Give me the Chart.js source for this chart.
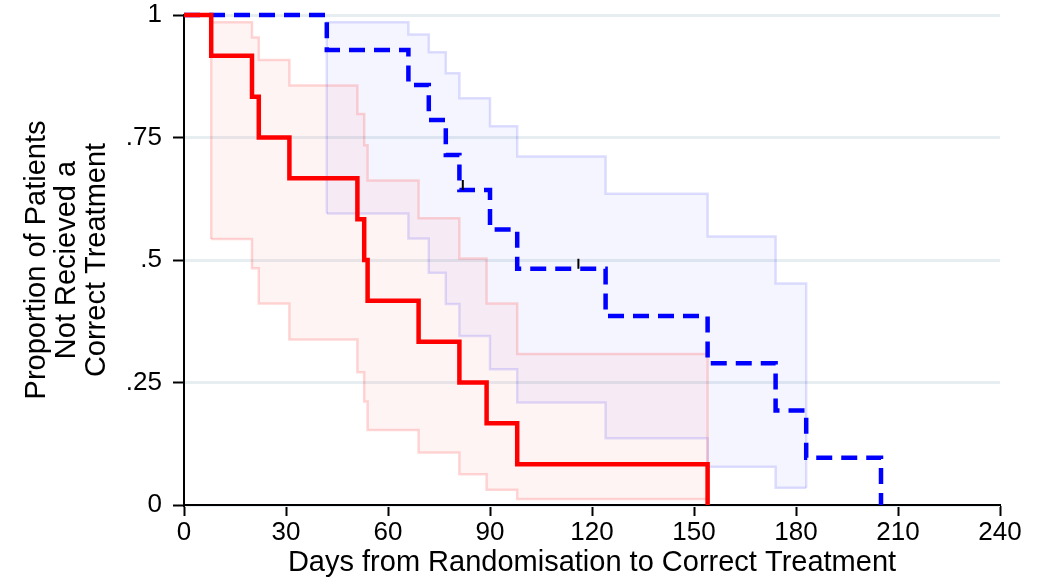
<!DOCTYPE html>
<html>
<head>
<meta charset="utf-8">
<script src="https://cdn.jsdelivr.net/npm/chart.js@4.4.0/dist/chart.umd.min.js"></script>
<style>
  html, body { margin: 0; padding: 0; background: #fff; }
  #wrap { width: 1050px; height: 581px; }
</style>
</head>
<body>
<div id="wrap"><canvas id="chart"></canvas></div>
<script>
// red group (solid line): KM estimate + 95% CI
const redDays = [0, 8, 20, 22, 31, 51, 53, 54, 69, 81, 89, 98, 154]
const redSurv = [1, .9167, .8333, .75, .6667, .5833, .5, .4167, .3333, .25, .1667, .0833, 0]
const redCiDays = [8, 20, 22, 31, 51, 53, 54, 69, 81, 89, 98, 154]
const redUpper = [.985, .954, .908, .856, .798, .734, .662, .585, .503, .411, .308, .308]
const redLower = [.543, .483, .411, .338, .271, .211, .153, .107, .063, .031, .012, .012]

// blue group (dashed line)
const blueDays = [0, 42, 66, 72, 77, 81, 90, 98, 124, 154, 174, 183, 205]
const blueSurv = [1, .9286, .8571, .7857, .7143, .6429, .5625, .4821, .3857, .2893, .1929, .0964, 0]
const blueCiDays = [42, 66, 72, 77, 81, 90, 98, 124, 154, 174, 183]
const blueUpper = [.985, .96, .924, .881, .83, .773, .711, .635, .548, .452, .452]
const blueLower = [.595, .544, .474, .41, .345, .277, .209, .136, .078, .035, .035]
const blueCensorDays = [82, 116]
const blueCensorSurv = [.6429, .4821]

const xTicks = [0, 30, 60, 90, 120, 150, 180, 210, 240]
const yTicks = [0, .25, .5, .75, 1]
const yTickLabels = ['0', '.25', '.5', '.75', '1']

const FONT = "'Liberation Sans', Arial, sans-serif"

const pts = (xs, ys) => xs.map((x, i) => ({x: x, y: ys[i]}))
// upper bound with the closing vertical edges at both ends of the band
const bandTop = (xs, up, lo) => [{x: xs[0], y: lo[0]}, ...pts(xs, up), {x: xs[xs.length-1], y: lo[lo.length-1]}]

const censorTicks = {
    id: 'censorTicks',
    afterDatasetsDraw(chart){
        const {ctx, scales: {x, y}} = chart
        ctx.save()
        ctx.strokeStyle = '#000'
        ctx.lineWidth = 2
        blueCensorDays.forEach((d, i)=>{
            const px = x.getPixelForValue(d)
            const py = y.getPixelForValue(blueCensorSurv[i])
            ctx.beginPath()
            ctx.moveTo(px, py)
            ctx.lineTo(px, py - 10)
            ctx.stroke()
        })
        ctx.restore()
    }
}

new Chart(document.getElementById('chart'), {
    type: 'line',
    data: {
        datasets: [
            {
                data: pts(redDays, redSurv),
                borderColor: '#ff0000', borderWidth: 4.5, stepped: true,
                pointRadius: 0, fill: false, clip: false,
            },
            {
                data: pts(blueDays, blueSurv),
                borderColor: '#0000ff', borderWidth: 4.5, borderDash: [16, 9], stepped: true,
                pointRadius: 0, fill: false, clip: false,
            },
            {
                data: bandTop(redCiDays, redUpper, redLower),
                borderColor: 'rgba(255,0,0,0.16)', borderWidth: 2.5, stepped: true,
                pointRadius: 0, fill: '+1', backgroundColor: 'rgba(255,0,0,0.045)',
            },
            {
                data: pts(redCiDays, redLower),
                borderColor: 'rgba(255,0,0,0.16)', borderWidth: 2.5, stepped: true,
                pointRadius: 0, fill: false,
            },
            {
                data: bandTop(blueCiDays, blueUpper, blueLower),
                borderColor: 'rgba(0,0,255,0.13)', borderWidth: 2.5, stepped: true,
                pointRadius: 0, fill: '+1', backgroundColor: 'rgba(0,0,255,0.04)',
            },
            {
                data: pts(blueCiDays, blueLower),
                borderColor: 'rgba(0,0,255,0.13)', borderWidth: 2.5, stepped: true,
                pointRadius: 0, fill: false,
            },
        ]
    },
    options: {
        responsive: true,
        maintainAspectRatio: false,
        animation: false,
        layout: { padding: { left: 0, right: 50, top: 15, bottom: 0 } },
        plugins: {
            legend: { display: false },
            tooltip: { enabled: false },
        },
        scales: {
            x: {
                type: 'linear', min: 0, max: 240,
                afterBuildTicks: s => { s.ticks = xTicks.map(v => ({value: v})) },
                afterFit: s => { s.height = 76 },
                ticks: { color: '#000', font: { size: 26, family: FONT, lineHeight: 1 }, padding: 4, maxRotation: 0, autoSkip: false },
                grid: { drawOnChartArea: false, drawTicks: true, tickLength: 11, tickColor: '#000', tickWidth: 2 },
                border: { color: '#000', width: 2 },
                title: {
                    display: true, text: 'Days from Randomisation to Correct Treatment', color: '#000',
                    font: { size: 29, family: FONT, lineHeight: 30/29 }, padding: { top: 0, bottom: 3 },
                },
            },
            y: {
                min: 0, max: 1,
                afterBuildTicks: s => { s.ticks = yTicks.map(v => ({value: v})) },
                afterFit: s => { s.width = 184; s.paddingTop = 0; s.paddingBottom = 0 },
                ticks: {
                    color: '#000', font: { size: 26, family: FONT, lineHeight: 1 }, padding: 11,
                    callback: v => yTickLabels[yTicks.indexOf(v)],
                },
                grid: { color: '#e7eef1', lineWidth: 3, tickLength: 11, tickColor: '#000', tickWidth: 2 },
                border: { color: '#000', width: 2 },
                title: {
                    display: true, text: ['Proportion of Patients', 'Not Recieved a', 'Correct Treatment'], color: '#000',
                    font: { size: 29, family: FONT, lineHeight: 30/29 }, padding: { top: 22, bottom: 0 },
                },
            },
        },
    },
    plugins: [censorTicks],
})
</script>
</body>
</html>
